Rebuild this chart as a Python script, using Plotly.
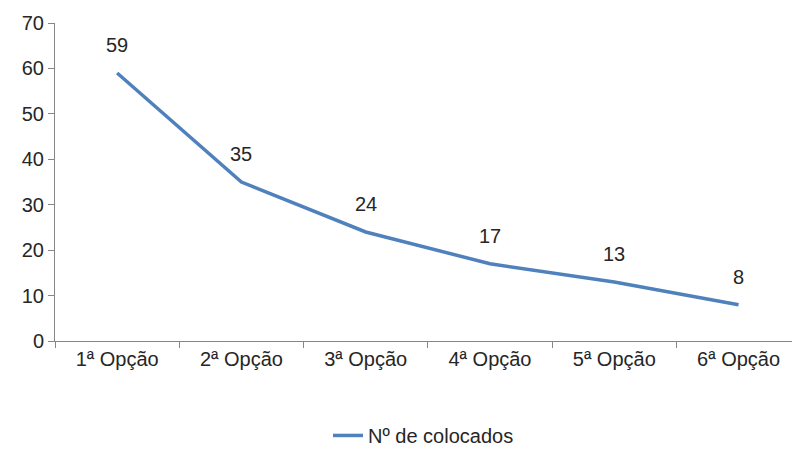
import plotly.graph_objects as go

categories = ["1ª Opção", "2ª Opção", "3ª Opção", "4ª Opção", "5ª Opção", "6ª Opção"]
values = [59, 35, 24, 17, 13, 8]
series_name = "Nº de colocados"

FONT = "Liberation Sans"
TXT = "#262626"
FS = 20

fig = go.Figure()
fig.add_trace(go.Scatter(
    x=categories, y=values, mode="lines", name=series_name,
    line=dict(color="#4F81BD", width=3.5),
))
for c, v in zip(categories, values):
    fig.add_annotation(x=c, y=v, text=str(v), showarrow=False, yshift=28,
                       font=dict(family=FONT, size=FS, color=TXT))

fig.update_layout(
    width=792, height=470,
    margin=dict(l=55, r=0, t=23, b=129),
    paper_bgcolor="white", plot_bgcolor="white",
    font=dict(family=FONT, size=FS, color=TXT),
    showlegend=True,
    legend=dict(orientation="h", x=0.5, xanchor="center", y=-0.297, yanchor="middle",
                font=dict(family=FONT, size=FS, color=TXT)),
    xaxis=dict(type="category", range=[-0.5, 5.43], showgrid=False, automargin=False,
               showline=True, linecolor="#868686", linewidth=1,
               ticks="outside", tickson="boundaries", ticklen=6, tickcolor="#868686",
               tickfont=dict(family=FONT, size=FS, color=TXT)),
    yaxis=dict(range=[0, 70], dtick=10, showgrid=False, zeroline=False, automargin=False,
               showline=True, linecolor="#868686", linewidth=1,
               ticks="outside", ticklen=6, tickcolor="#868686",
               tickfont=dict(family=FONT, size=FS, color=TXT)),
)
fig.write_html("out.html", config={"displayModeBar": False})

with open("out.html", encoding="utf-8") as f:
    html = f.read()
html = html.replace("<body>", '<body style="margin:0;padding:0;overflow:hidden">', 1)
with open("out.html", "w", encoding="utf-8") as f:
    f.write(html)
